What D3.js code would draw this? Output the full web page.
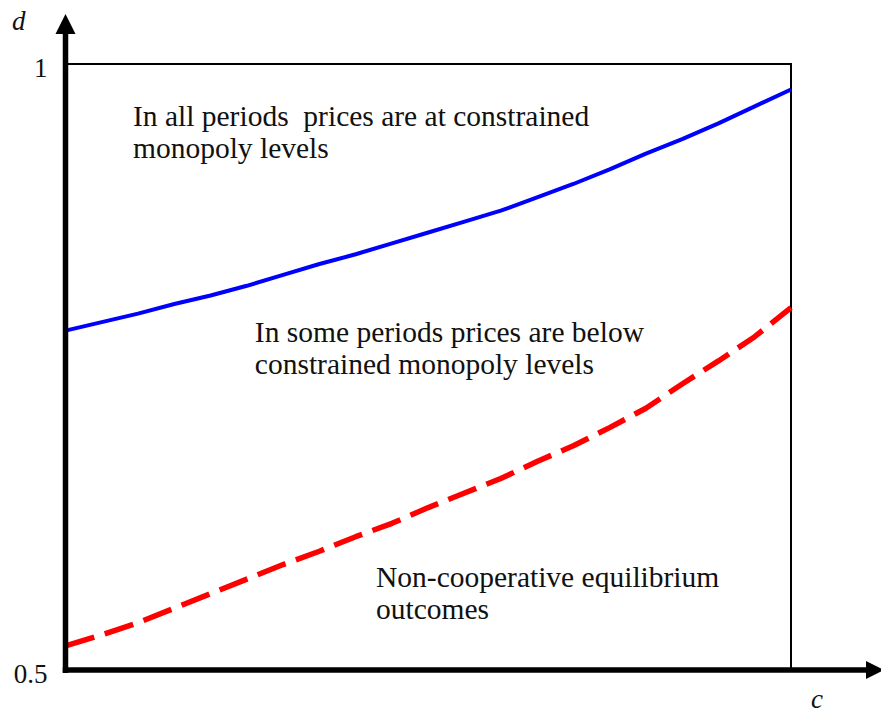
<!DOCTYPE html>
<html>
<head>
<meta charset="utf-8">
<script src="https://cdn.jsdelivr.net/npm/d3@7"></script>
<style>
  html, body { margin: 0; padding: 0; background: #fff; }
  svg { display: block; }
  text { font-family: "Liberation Serif", "Times New Roman", serif; fill: #111; white-space: pre; }
</style>
</head>
<body>
<div id="chart"></div>
<script>
// ---- data ----
const cValues = [0, 0.05, 0.1, 0.15, 0.2, 0.25, 0.3, 0.35, 0.4, 0.45, 0.5,
                 0.55, 0.6, 0.65, 0.7, 0.75, 0.8, 0.85, 0.9, 0.95, 1];
const monopolyBoundary = [0.780, 0.787, 0.794, 0.802, 0.809, 0.817, 0.826, 0.835, 0.843, 0.852, 0.861,
                          0.870, 0.879, 0.890, 0.901, 0.913, 0.926, 0.938, 0.951, 0.965, 0.979];
const nonCoopBoundary = [0.520, 0.529, 0.539, 0.551, 0.563, 0.575, 0.587, 0.598, 0.610, 0.621, 0.634,
                         0.646, 0.658, 0.672, 0.685, 0.700, 0.716, 0.736, 0.755, 0.775, 0.799];
const yTickValues = [0.5, 1];
const yTickLabels = ["0.5", "1"];
const xAxisLabel = "c";
const yAxisLabel = "d";
const regionLabels = [
  { lines: ["In all periods  prices are at constrained", "monopoly levels"], c: 0.093, d: 0.9485 },
  { lines: ["In some periods prices are below", "constrained monopoly levels"], c: 0.261, d: 0.7705 },
  { lines: ["Non-cooperative equilibrium", "outcomes"], c: 0.428, d: 0.5685 }
];

// ---- layout ----
const W = 881, H = 715;
const x = d3.scaleLinear().domain([0, 1]).range([65.5, 791]);
const y = d3.scaleLinear().domain([0.5, 1]).range([670, 64]);

const svg = d3.select("#chart").append("svg").attr("width", W).attr("height", H);

// box (top and right)
svg.append("path")
  .attr("d", `M${x(0)},${y(1)} H${x(1)} V${y(0.5)}`)
  .attr("fill", "none").attr("stroke", "#000").attr("stroke-width", 2);

// curves
const line = d3.line().x((d, i) => x(cValues[i])).y(d => y(d));
svg.append("path").datum(monopolyBoundary)
  .attr("d", line).attr("fill", "none")
  .attr("stroke", "#0000ff").attr("stroke-width", 4).attr("stroke-linejoin", "round");
svg.append("path").datum(nonCoopBoundary)
  .attr("d", line).attr("fill", "none")
  .attr("stroke", "#ff0000").attr("stroke-width", 5.5)
  .attr("stroke-dasharray", "30,11").attr("stroke-linejoin", "round");

// axes (thick with arrowheads)
const ax0 = x(0), ay0 = y(0.5);
svg.append("line").attr("x1", ax0).attr("y1", ay0 + 3).attr("x2", ax0).attr("y2", 30)
  .attr("stroke", "#000").attr("stroke-width", 5.5);
svg.append("path").attr("d", `M${ax0},14 L${ax0 - 10},34 L${ax0 + 10},34 Z`).attr("fill", "#000");
svg.append("line").attr("x1", ax0 - 2.75).attr("y1", ay0).attr("x2", 868).attr("y2", ay0)
  .attr("stroke", "#000").attr("stroke-width", 5.5);
svg.append("path").attr("d", `M884,${ay0} L866,${ay0 - 9} L866,${ay0 + 9} Z`).attr("fill", "#000");

// tick labels via a D3 axis
const yAxis = d3.axisLeft(y).tickValues(yTickValues)
  .tickFormat((d, i) => yTickLabels[i]).tickSize(0).tickPadding(18);
const gy = svg.append("g").attr("transform", `translate(${ax0},0)`).call(yAxis);
gy.select(".domain").remove();
gy.selectAll("text").attr("font-size", 27).attr("font-family", "Liberation Serif, serif")
  .attr("fill", "#111").attr("dy", "0.45em");

// axis titles
svg.append("text").attr("x", 12).attr("y", 30).attr("font-size", 27)
  .attr("font-style", "italic").text(yAxisLabel);
svg.append("text").attr("x", 811).attr("y", 708).attr("font-size", 27)
  .attr("font-style", "italic").text(xAxisLabel);

// region labels
regionLabels.forEach(r => {
  const t = svg.append("text").attr("font-size", 29.5);
  r.lines.forEach((s, i) => {
    t.append("tspan").attr("x", x(r.c)).attr("y", y(r.d) + i * 32).text(s);
  });
});
</script>
</body>
</html>
